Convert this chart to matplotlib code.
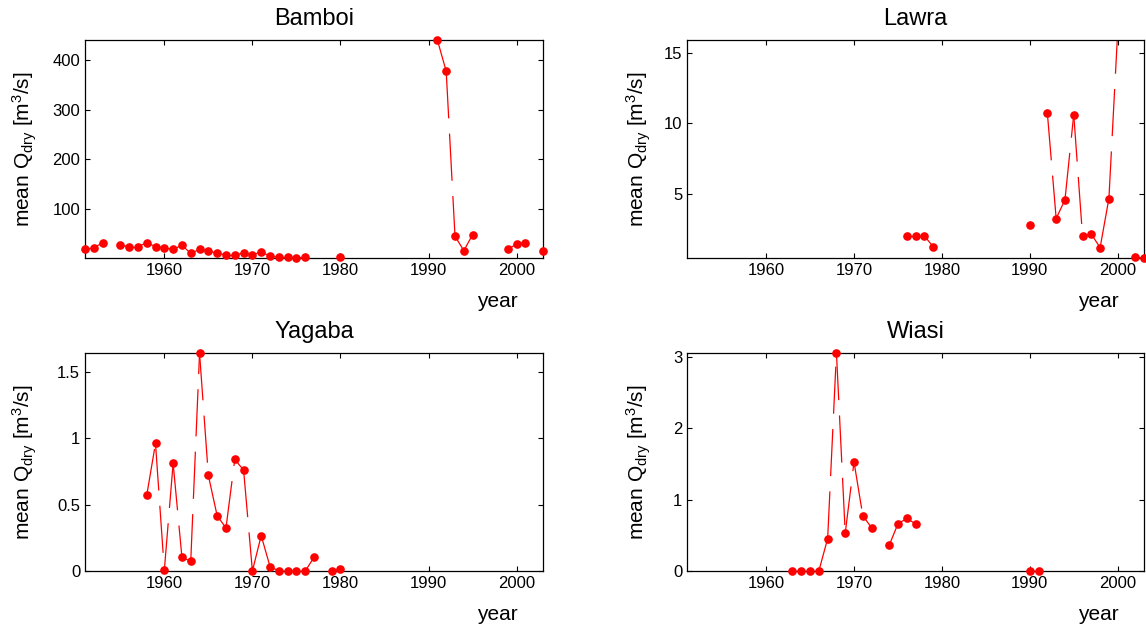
import numpy as np
import matplotlib
matplotlib.use("Agg")
import matplotlib.pyplot as plt
from matplotlib.ticker import FuncFormatter

# ── Datos (caudal medio de estiaje, m3/s) ──────────────────────────────────────
nan = np.nan
years = np.arange(1951, 2004)

bamboi = [18.2, 21.0, 31.8, nan, 26.4, 23.6, 23.6, 31.8, 23.6, 21.0,   # 1951-1960
          18.2, 26.4, 10.1, 18.2, 15.5, 10.1, 7.4, 7.4, 10.1, 7.4,     # 1961-1970
          12.8, 4.7, 2.0, 2.0, 0.8, 2.0, nan, nan, nan, 2.0,           # 1971-1980
          nan, nan, nan, nan, nan, nan, nan, nan, nan, nan,            # 1981-1990
          441.0, 378.0, 45.0, 15.5, 48.0, nan, nan, nan, 18.2, 29.0,   # 1991-2000
          31.8, nan, 15.5]                                             # 2001-2003

lawra = [nan] * 25 + [                                                 # 1951-1975
          2.06, 2.06, 2.06, 1.29, nan,                                 # 1976-1980
          nan, nan, nan, nan, nan, nan, nan, nan, nan, 2.81,           # 1981-1990
          nan, 10.72, 3.28, 4.60, 10.63, 2.06, 2.18, 1.22, 4.69, 16.5, # 1991-2000
          nan, 0.54, 0.49]                                             # 2001-2003

yagaba = [nan] * 7 + [                                                 # 1951-1957
          0.568, 0.96, 0.005,                                          # 1958-1960
          0.81, 0.103, 0.073, 1.638, 0.719, 0.415, 0.324, 0.839, 0.759, 0.0,  # 1961-1970
          0.266, 0.033, 0.0, 0.0, 0.0, 0.0, 0.103, nan, 0.0, 0.013,   # 1971-1980
          ] + [nan] * 23                                               # 1981-2003

wiasi = [nan] * 12 + [                                                 # 1951-1962
          0.0, 0.0, 0.0, 0.0, 0.455, 0.0 + 3.06, 0.53, 1.53,           # 1963-1970
          0.775, 0.606, nan, 0.36, 0.662, 0.737, 0.662, nan, nan, nan, # 1971-1980
          nan, nan, nan, nan, nan, nan, nan, nan, nan, 0.0,            # 1981-1990
          0.0] + [nan] * 12                                            # 1991-2003

stations = ["Bamboi", "Lawra", "Yagaba", "Wiasi"]
series   = [bamboi, lawra, yagaba, wiasi]
ylims    = [(0.8, 441.0), (0.49, 15.9), (0.0, 1.64), (0.0, 3.06)]
yticks   = [[100, 200, 300, 400], [5, 10, 15], [0, 0.5, 1, 1.5], [0, 1, 2, 3]]

# ── Estilo ─────────────────────────────────────────────────────────────────────
plt.rcParams["font.family"] = ["Liberation Sans", "DejaVu Sans"]
plt.rcParams["mathtext.fontset"] = "custom"
plt.rcParams["mathtext.rm"] = "Liberation Sans"
plt.rcParams["mathtext.it"] = "Liberation Sans:italic"
plt.rcParams["lines.scale_dashes"] = False

RED = "#ff0000"

# posiciones [left, bottom, width, height] en fracción de figura
positions = [
    [0.0742, 0.5905, 0.3997, 0.3460],
    [0.5995, 0.5905, 0.3988, 0.3460],
    [0.0742, 0.0937, 0.3997, 0.3460],
    [0.5995, 0.0937, 0.3988, 0.3460],
]
ylabel_x = [-0.100, -0.074, -0.100, -0.074]

fig = plt.figure(figsize=(11.46, 6.30), dpi=100)

for i, (name, vals) in enumerate(zip(stations, series)):
    ax = fig.add_axes(positions[i])
    y = np.array(vals, dtype=float)
    ylo, yhi = ylims[i]

    # segmentos entre años consecutivos (patrón de trazos reinicia en cada tramo)
    for k in range(len(years) - 1):
        if np.isfinite(y[k]) and np.isfinite(y[k + 1]):
            ax.plot(years[k:k + 2], y[k:k + 2], color=RED, linewidth=0.9,
                    dashes=(34, 11), solid_capstyle="butt", zorder=2)

    # marcadores (solo los que caen dentro de los límites)
    inside = np.isfinite(y) & (y >= ylo - 1e-9) & (y <= yhi + 1e-9)
    ax.plot(years[inside], y[inside], linestyle="none", marker="o",
            markersize=5.2, color=RED, clip_on=False, zorder=3)

    ax.set_xlim(1951, 2003)
    ax.set_ylim(ylo, yhi)
    ax.set_xticks([1960, 1970, 1980, 1990, 2000])
    ax.set_yticks(yticks[i])
    ax.yaxis.set_major_formatter(FuncFormatter(lambda v, p: f"{v:g}"))
    ax.tick_params(direction="in", length=3.5, width=0.8, labelsize=12,
                   top=True, right=True, pad=3.5)
    for sp in ax.spines.values():
        sp.set_linewidth(0.9)

    ax.set_title(name, fontsize=17, pad=11)
    ax.set_ylabel(r"mean Q$_{\mathrm{dry}}$ [m$^3$/s]", fontsize=15)
    ax.yaxis.set_label_coords(ylabel_x[i], 0.5)
    ax.text(0.9, -0.225, "year", transform=ax.transAxes, fontsize=15,
            ha="center", va="baseline")

fig.savefig("out.png", dpi=100)
